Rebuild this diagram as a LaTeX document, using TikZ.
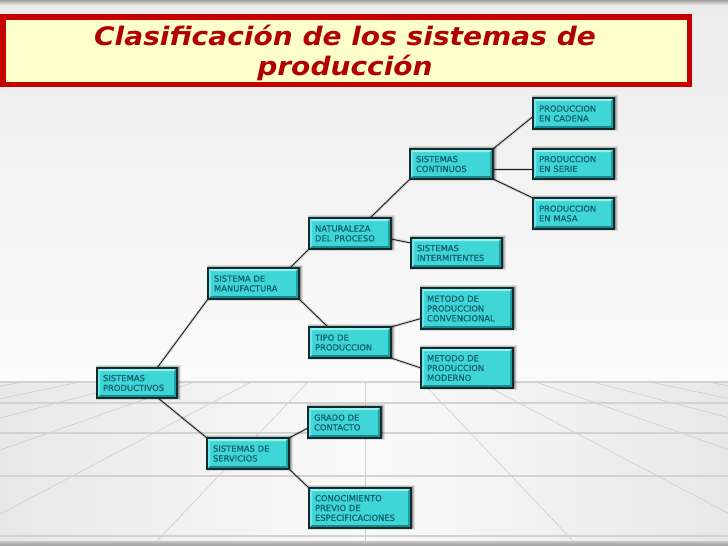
\documentclass[tikz,border=0pt]{standalone}
\usepackage{fontspec}
\newfontfamily\titlefont[FakeStretch=1.1]{DejaVu Sans}
\newfontfamily\boxfont[FakeBold=0.8]{DejaVu Sans}
\definecolor{titlered}{RGB}{196,0,0}
\definecolor{titletext}{RGB}{178,0,0}
\definecolor{titlefill}{RGB}{255,255,204}
\definecolor{boxfill}{RGB}{62,214,214}
\definecolor{boxedge}{RGB}{16,44,46}
\definecolor{boxtext}{RGB}{22,92,110}
\definecolor{bevtopc}{RGB}{150,240,240}
\definecolor{bevleftc}{RGB}{110,230,230}
\definecolor{bevrightc}{RGB}{34,160,160}
\definecolor{bevbotc}{RGB}{24,138,140}
\definecolor{linkcol}{RGB}{30,30,30}
\definecolor{bgtop}{RGB}{236,236,236}
\definecolor{bgmid}{RGB}{251,251,251}
\definecolor{floorside}{RGB}{232,232,232}
\definecolor{floormid}{RGB}{250,250,250}
\definecolor{gridcol}{RGB}{205,205,205}
\definecolor{horizcol}{RGB}{210,210,210}
\pgfdeclarelayer{bglayer}
\pgfdeclarelayer{shadowlayer}
\pgfsetlayers{bglayer,shadowlayer,main}
\newcommand\boxbevel[1]{%
  \fill[bevtopc] (#1.north west) -- (#1.north east) -- ([xshift=-3pt,yshift=-3pt]#1.north east) -- ([xshift=3pt,yshift=-3pt]#1.north west) -- cycle;
  \fill[bevleftc] (#1.north west) -- ([xshift=3pt,yshift=-3pt]#1.north west) -- ([xshift=3pt,yshift=3pt]#1.south west) -- (#1.south west) -- cycle;
  \fill[bevrightc] (#1.north east) -- (#1.south east) -- ([xshift=-3pt,yshift=3pt]#1.south east) -- ([xshift=-3pt,yshift=-3pt]#1.north east) -- cycle;
  \fill[bevbotc] (#1.south west) -- (#1.south east) -- ([xshift=-3pt,yshift=3pt]#1.south east) -- ([xshift=3pt,yshift=3pt]#1.south west) -- cycle;
  \draw[boxedge, line width=1.2pt] (#1.north west) rectangle (#1.south east);
  \begin{pgfonlayer}{shadowlayer}
    \fill[black, opacity=0.10] ([xshift=-1.5pt,yshift=-1.5pt]#1.south west) rectangle ([xshift=3.5pt,yshift=3.5pt]#1.north east);
    \fill[black, opacity=0.14] ([xshift=-0.5pt,yshift=-0.5pt]#1.south west) rectangle ([xshift=2.5pt,yshift=2.5pt]#1.north east);
    \fill[black, opacity=0.22] ([xshift=0pt,yshift=0pt]#1.south west) rectangle ([xshift=1.5pt,yshift=1.5pt]#1.north east);
  \end{pgfonlayer}
}
\tikzset{
  sbox/.style={anchor=north west, draw=boxedge, line width=1.2pt, fill=boxfill,
    outer sep=0pt, inner xsep=6pt, inner ysep=0pt, align=left,
    font=\boxfont\fontsize{8.4}{9.8}\selectfont, text=boxtext},
  link/.style={draw=linkcol, line width=0.9pt},
  linkshade/.style={draw=black, opacity=0.12, line width=3pt},
  titlebox/.style={draw=titlered, line width=5.5pt, fill=titlefill, outer sep=0pt,
    minimum width=686.5pt, minimum height=67.5pt, inner sep=0pt},
  titletxt/.style={align=center, text=titletext, inner sep=0pt,
    font=\titlefont\bfseries\itshape\fontsize{25.5}{30}\selectfont},
  gridline/.style={draw=gridcol, line width=0.6pt},
  horizline/.style={draw=horizcol, line width=1.1pt}
}
\begin{document}
\begin{tikzpicture}[x=1pt, y=-1pt]
\useasboundingbox (0,0) rectangle (728,546);
% background
\begin{pgfonlayer}{bglayer}
\fill[top color=bgtop, bottom color=bgmid] (0,0) rectangle (728,382);
\fill[left color=floorside, right color=floorside, middle color=floormid] (0,382) rectangle (728,541);
\fill[top color=gray!75, bottom color=bgtop] (0,0) rectangle (728,5);
\fill[top color=gray!45, bottom color=gray!80] (0,541) rectangle (728,546);
\begin{scope}
  \clip (0,382) rectangle (728,541);
  \foreach \k in {-7,...,7} {
    \draw[gridline] (365,322) -- ({365+228*\k},562);
  }
\end{scope}
\foreach \yy in {382,403,433,476,536} {
  \draw[horizline] (0,\yy) -- (728,\yy);
}
\end{pgfonlayer}
% title
\node[titlebox] (title) at (346,50.5) {};
\node[titletxt] (ttext) at (345,53) {Clasificación de los sistemas de\\producción};
% boxes
\node[sbox, minimum width=80pt, text width=68pt, minimum height=30pt] (prod) at (97,368) {SISTEMAS\\PRODUCTIVOS};
\node[sbox, minimum width=91pt, text width=79pt, minimum height=31pt] (manu) at (208,268) {SISTEMA DE\\MANUFACTURA};
\node[sbox, minimum width=82pt, text width=70pt, minimum height=31pt] (natu) at (309,218) {NATURALEZA\\DEL PROCESO};
\node[sbox, minimum width=82pt, text width=70pt, minimum height=31pt] (tipo) at (309,327) {TIPO DE\\PRODUCCION};
\node[sbox, minimum width=83pt, text width=71pt, minimum height=30pt] (cont) at (410,149) {SISTEMAS\\CONTINUOS};
\node[sbox, minimum width=91pt, text width=79pt, minimum height=30pt] (inter) at (411,238) {SISTEMAS\\INTERMITENTES};
\node[sbox, minimum width=81pt, text width=69pt, minimum height=31pt] (cad) at (533,98) {PRODUCCION\\EN CADENA};
\node[sbox, minimum width=81pt, text width=69pt, minimum height=30pt] (serie) at (533,149) {PRODUCCION\\EN SERIE};
\node[sbox, minimum width=81pt, text width=69pt, minimum height=31pt] (masa) at (533,198) {PRODUCCION\\EN MASA};
\node[sbox, minimum width=92pt, text width=80pt, minimum height=41pt] (conv) at (421,288) {METODO DE\\PRODUCCION\\CONVENCIONAL};
\node[sbox, minimum width=92pt, text width=80pt, minimum height=40pt] (mod) at (421,348) {METODO DE\\PRODUCCION\\MODERNO};
\node[sbox, minimum width=73pt, text width=61pt, minimum height=31pt] (grado) at (308,407) {GRADO DE\\CONTACTO};
\node[sbox, minimum width=82pt, text width=70pt, minimum height=31pt] (serv) at (207,438) {SISTEMAS DE\\SERVICIOS};
\node[sbox, minimum width=102pt, text width=90pt, minimum height=40pt] (cono) at (309,488) {CONOCIMIENTO\\PREVIO DE\\ESPECIFICACIONES};
% connectors
\foreach \st in {linkshade, link} {
  \draw[\st] ([xshift=20pt]prod.north) -- (manu.south west);
  \draw[\st] ([xshift=21pt]prod.south) -- (serv.north west);
  \draw[\st] ([xshift=-9pt]manu.north east) -- (natu.south west);
  \draw[\st] (manu.south east) -- ([xshift=-22pt]tipo.north);
  \draw[\st] ([xshift=20pt]natu.north) -- (cont.south west);
  \draw[\st] ([yshift=-5.5pt]natu.east) -- ([yshift=-5pt]inter.north west);
  \draw[\st] (cont.north east) -- ([yshift=-3pt]cad.west);
  \draw[\st] ([yshift=-5pt]cont.east) -- ([yshift=-5pt]serie.west);
  \draw[\st] (cont.south east) -- (masa.north west);
  \draw[\st] (tipo.north east) -- ([yshift=-10pt]conv.west);
  \draw[\st] (tipo.south east) -- (mod.west);
  \draw[\st] (serv.north east) -- ([yshift=-5.5pt]grado.west);
  \draw[\st] (serv.south east) -- (cono.north west);
}
% bevels on top
\foreach \b in {prod,manu,natu,tipo,cont,inter,cad,serie,masa,conv,mod,grado,serv,cono} {
  \boxbevel{\b}
}
\end{tikzpicture}
\end{document}
